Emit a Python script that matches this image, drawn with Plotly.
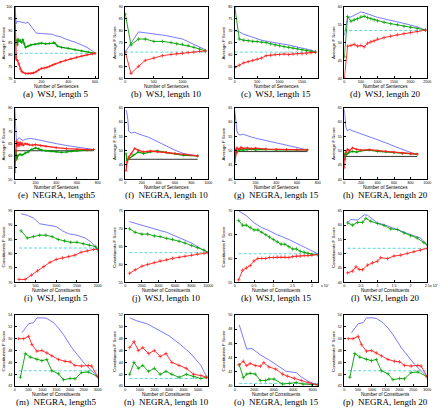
import plotly.graph_objects as go

# ---------------- data ----------------
# (a) WSJ length 5
A_BLUE_X = [2, 10, 20, 40, 60, 80, 100, 120, 140, 160, 200, 240, 280, 300, 340, 380, 420, 460, 500, 540, 580, 600]
A_BLUE_Y = [100, 93, 94, 93.8, 93.5, 93.2, 93.5, 92, 90, 89, 88.8, 88.6, 88.5, 88, 87.5, 86.5, 85.8, 85, 84, 83, 81.5, 80.5]
A_GREEN_X = [15, 20, 25, 30, 40, 50, 60, 70, 80, 100, 120, 150, 180, 200, 230, 260, 290, 300, 320, 350, 400, 450, 500, 550, 600]
A_GREEN_Y = [86, 84, 86.5, 85.5, 86, 85, 86.3, 84.5, 83, 83.5, 84, 84.3, 84.6, 84.8, 84.5, 84.7, 85, 84.8, 83.5, 83, 82.6, 82, 81.5, 81, 80.5]
A_RED_X = [0, 3, 6, 10, 20, 30, 40, 50, 60, 80, 100, 120, 140, 160, 180, 200, 220, 240, 260, 280, 300, 340, 380, 420, 460, 500, 540, 580, 600]
A_RED_Y = [100, 90, 79, 78, 77.5, 76, 74, 73, 72.5, 72, 72, 72, 72.2, 72.8, 73.5, 74.2, 74.3, 74.5, 75, 75.5, 76, 76.8, 77.5, 78.2, 78.8, 79.3, 79.8, 80.2, 80.5]
A_BASE = 80.5

# (b) WSJ length 10
B_BLUE_X = [0, 230, 700, 1000, 1400]
B_BLUE_Y = [71, 79.5, 78, 76.5, 72]
B_X = [0, 100, 230, 350, 500, 650, 800, 900, 1000, 1100, 1200, 1300, 1400]
B_GREEN_Y = [87, 74, 76.5, 76.5, 75.5, 75.5, 75, 74.5, 74.3, 73.8, 73, 72.3, 71.5]
B_RED_Y = [71, 62, 65, 67.5, 68.5, 69.5, 70, 70.3, 70.5, 70.8, 71, 71.3, 71.5]
B_BASE = 71

# (c) WSJ length 15
C_X = [0, 100, 200, 300, 400, 500, 600, 700, 800, 900, 1000, 1100, 1200, 1300, 1400, 1500, 1600, 1700, 1800]
C_BLUE_Y = [70, 69.5, 68.5, 67.8, 67.2, 66.6, 66, 65.6, 65.2, 64.9, 64.6, 64.3, 64, 63.6, 63.2, 62.8, 62.4, 61.8, 61.2]
C_GREEN_Y = [80, 66.5, 66, 65.8, 65.5, 65.5, 65.2, 65, 64.5, 64, 63.7, 63.3, 63, 62.7, 62.4, 62, 61.7, 61.4, 61]
C_RED_Y = [54.5, 55.5, 56.5, 57, 57.5, 58, 58.5, 59.5, 59.7, 60, 60, 60.2, 60, 60.2, 60.3, 60.3, 60.5, 60.7, 61]
C_BASE = 61

# (d) WSJ length 20
D_X = [0, 100, 200, 300, 400, 500, 600, 700, 800, 900, 1000, 1200, 1400, 1600, 1800, 2000, 2200, 2450]
D_BLUE_Y = [52, 57, 57.2, 57.6, 58.2, 58.6, 58.4, 58, 57.7, 57.4, 57.1, 56.6, 56.2, 55.8, 55.4, 55, 54.4, 53.5]
D_GREEN_Y = [46, 57.3, 56, 56.4, 56.7, 57.2, 57.4, 57, 56.7, 56.4, 56.1, 55.7, 55.3, 55, 54.6, 54.3, 54, 53.5]
D_RED_Y = [40, 49, 49.2, 49.5, 49, 49.2, 48.8, 49.8, 50.2, 50.5, 51, 51.4, 51.8, 52.2, 52.5, 52.8, 53.1, 53.5]
D_BASE = 53.4

# (e) NEGRA length 5
E_BLUE_X = [0, 3, 8, 15, 25, 40, 60, 80, 100, 150, 200, 250, 300, 400, 500, 600, 700, 760]
E_BLUE_Y = [80, 76, 70, 66, 66.5, 67.5, 66.8, 66.3, 66.8, 67.2, 66.8, 66.3, 65.8, 65, 64.2, 63.5, 62.8, 62.5]
E_RED_X = [0, 5, 10, 15, 20, 30, 40, 50, 60, 70, 80, 100, 120, 140, 170, 200, 250, 300, 400, 500, 600, 700, 760]
E_RED_Y = [53, 58, 62, 66, 64, 65.5, 64, 65.5, 64.5, 65.2, 64.3, 65, 64.8, 64.5, 64.4, 64.6, 64.2, 63.8, 63.3, 62.9, 62.6, 62.5, 62.5]
E_GREEN_X = [5, 10, 20, 30, 50, 70, 100, 130, 160, 200, 230, 260, 300, 350, 400, 450, 500, 550, 600, 700, 760]
E_GREEN_Y = [58, 62, 58.5, 60, 60.5, 60.2, 61, 61.5, 62.5, 63.2, 62.8, 62.3, 62, 61.8, 61.6, 61.3, 61.5, 61.8, 62, 62.3, 62.5]
E_BASE = 62

# (f) NEGRA length 10
F_BLUE_X = [8, 17, 30, 42, 72, 114, 156, 219, 283, 388, 494, 599, 705, 810, 873]
F_BLUE_Y = [64.3, 63.4, 61, 56.8, 56.2, 56.5, 55.9, 55.4, 54.7, 53.2, 51.7, 50.2, 49, 48.4, 48.2]
F_RED_X = [8, 21, 42, 72, 114, 156, 219, 304, 388, 494, 599, 705, 873]
F_RED_Y = [43, 46, 47.8, 49, 50.8, 50.2, 49.6, 49.9, 49.6, 49.4, 49, 48.7, 48.2]
F_GREEN_X = [8, 21, 42, 93, 156, 219, 304, 388, 494, 599, 705, 873]
F_GREEN_Y = [49, 46.6, 47.2, 48.4, 49.6, 49, 49.6, 49.9, 49.4, 49, 48.4, 48.2]
F_BASE = 47

# (g) NEGRA length 15
G_BLUE_X = [0, 5, 10, 20, 30, 50, 80, 120, 160, 200, 300, 400, 500, 600, 700]
G_BLUE_Y = [64, 62, 59, 57, 56, 55.5, 55.8, 55.2, 54.8, 54.4, 53.6, 52.8, 51.9, 51, 50.3]
G_X = [0, 10, 20, 40, 60, 80, 120, 160, 200, 300, 400, 500, 600, 700]
G_RED_Y = [46, 49, 51, 50.5, 51.2, 50.8, 51, 50.7, 50.9, 50.6, 50.5, 50.4, 50.3, 50.3]
G_GREEN_Y = [48, 50.5, 49.5, 50, 50.5, 50.2, 50.4, 50.6, 50.3, 50.5, 50.3, 50.4, 50.3, 50.3]
G_BASE = 49.7

# (h) NEGRA length 20
H_X = [0, 5, 10, 20, 40, 60, 100, 150, 200, 300, 400, 500, 600, 700, 800, 880]
H_BLUE_Y = [64.5, 62, 60, 58, 57, 57.5, 57, 56.5, 56, 55, 54, 52.8, 51.6, 50.4, 49.4, 48.8]
H_RED_Y = [44, 47, 48.5, 49.5, 50.5, 50, 51, 50.5, 50.2, 50.4, 50, 49.8, 49.5, 49.2, 49, 48.8]
H_GREEN_Y = [49, 47, 48, 48.5, 49, 49.5, 49.8, 49.5, 50, 50.2, 49.8, 49.6, 49.3, 49, 48.9, 48.8]
H_BASE = 48

# (i) WSJ length 5, constituents
I_BLUE_X = [150, 300, 450, 600, 800, 1000, 1150, 1300, 1500, 1700, 1850, 2000]
I_BLUE_Y = [94, 93.5, 92.5, 90.5, 90, 89.5, 88, 87, 86.5, 85.5, 84, 81.5]
I_GREEN_X = [150, 300, 450, 600, 750, 900, 1050, 1200, 1350, 1500, 1650, 1800, 1950, 2000]
I_GREEN_Y = [88, 85.5, 86, 86.5, 86.5, 86, 85, 84.5, 84, 84, 83.5, 83, 82.5, 81.5]
I_RED_X = [100, 250, 400, 550, 700, 850, 1000, 1150, 1300, 1450, 1600, 1750, 1900, 2000]
I_RED_Y = [71, 71, 72.5, 74, 75.5, 77, 78, 78.5, 79, 79.5, 80.5, 81, 81.5, 81.5]
I_BASE = 82

# (j) WSJ length 10, constituents
J_X = [500, 1200, 2000, 2700, 3500, 4200, 5000, 5700, 6500, 7200, 8000, 8700, 9500, 10000]
J_BLUE_Y = [72, 71.5, 71, 70.5, 70, 69.5, 69, 68.3, 67.5, 66.8, 66, 65, 64, 63.3]
J_GREEN_Y = [70, 69, 68.5, 68.5, 68, 67.8, 67.3, 67, 66.5, 66, 65.3, 64.7, 64, 63.3]
J_RED_Y = [57.5, 58.5, 59.5, 60, 60.5, 61, 61.3, 61.7, 62, 62.3, 62.6, 62.9, 63.1, 63.3]
J_BASE = 63.3

# (k) WSJ length 15, constituents
K_BLUE_X = [1000, 3000, 5000, 7000, 8500, 11000, 14000, 16500, 19000, 21500]
K_BLUE_Y = [70, 69, 67.5, 66.5, 66, 65, 64, 63, 62, 61]
K_X = [1000, 2000, 3000, 4000, 5000, 6000, 7000, 8000, 9000, 10000, 11000, 12000, 13000, 14000, 15000, 16000, 17000, 18000, 19000, 20000, 21500]
K_GREEN_Y = [68, 67, 67, 66.5, 66, 66, 65.5, 65, 64.5, 64, 63.5, 63, 63, 62.5, 62, 62, 61.5, 61.3, 61.1, 60.9, 60.8]
K_RED_Y = [55.5, 57.5, 58, 58.5, 59.5, 60, 60, 60, 60.2, 60.2, 60.3, 60.3, 60.3, 60.2, 60.4, 60.5, 60.5, 60.6, 60.6, 60.7, 60.8]
K_BASE = 61

# (l) WSJ length 20, constituents
L_BLUE_X = [1000, 2000, 4000, 6000, 7000, 10000, 12000, 15000, 20000, 23000, 25000]
L_BLUE_Y = [61, 62, 61.8, 63.6, 63.5, 60.8, 60.2, 58.8, 56.7, 55.5, 53.1]
L_GREEN_X = [1000, 2500, 4000, 5500, 6500, 8000, 10000, 12000, 14000, 16000, 18000, 20000, 22000, 24000, 25000]
L_GREEN_Y = [60.8, 60, 61, 61, 62.4, 61.4, 60.6, 59.9, 58.7, 58.5, 57.3, 56.3, 55.5, 53.9, 53.1]
L_RED_X = [1000, 2500, 3500, 4500, 5500, 7000, 8500, 10000, 11000, 13000, 15000, 17000, 19000, 21000, 23000, 25000]
L_RED_Y = [43.3, 43.9, 45.4, 44.5, 44.4, 46, 46.8, 47.4, 48.6, 48.3, 49.2, 49.5, 50.1, 50.7, 51.3, 51.9]
L_BASE = 51.9

# (m) NEGRA length 5, constituents
M_BLUE_X = [260, 500, 680, 800, 1040, 1160, 1400, 1580, 1760, 2060, 2540, 2900, 3000]
M_BLUE_Y = [51.0, 52.5, 52.7, 53.5, 53.5, 53.4, 52.7, 51.8, 50.7, 48.5, 45.7, 44.0, 43.6]
M_RED_X = [140, 320, 500, 620, 800, 980, 1160, 1340, 1580, 1820, 2000, 2180, 2420, 2660, 2780, 3000]
M_RED_Y = [50.0, 50.0, 50.4, 49.0, 47.9, 48.0, 47.6, 47.1, 46.5, 46.2, 46.1, 45.5, 45.4, 45.5, 45.4, 43.6]
M_GREEN_X = [200, 380, 560, 800, 980, 1160, 1340, 1580, 1760, 2000, 2180, 2420, 2660, 3000]
M_GREEN_Y = [43.5, 47.5, 46.9, 46.5, 46.3, 46.5, 44.6, 44.1, 43.1, 43.3, 43.25, 44.3, 44.4, 43.6]
M_BASE = 44.6

# (n) NEGRA length 10, constituents
N_BLUE_X = [300, 800, 1500, 2200, 3000, 3800, 4500, 5200, 5600]
N_BLUE_Y = [51.5, 51, 50.5, 49.5, 48.5, 47, 45.5, 43.5, 41.5]
N_X = [300, 600, 900, 1200, 1600, 2000, 2400, 2800, 3200, 3700, 4200, 4700, 5200, 5600]
N_RED_Y = [46.5, 47.5, 46, 46.5, 45.5, 46, 45, 45.5, 44, 43.5, 43, 42, 41.8, 41.5]
N_GREEN_Y = [42, 44, 43, 43.5, 42.5, 43, 42, 42.5, 42, 41.5, 42, 41.6, 41.3, 41.5]
N_BASE = 41.3

# (o) NEGRA length 15, constituents
O_BLUE_X = [455, 1224, 1750, 2620, 3500, 4370, 5250, 5770, 6300, 6820, 7520, 8220, 8500]
O_BLUE_Y = [48.6, 45.2, 45.3, 44.4, 43.7, 42.9, 42.1, 42.0, 41.9, 41.3, 40.7, 40.3, 40.2]
O_RED_X = [455, 875, 1224, 1575, 2100, 2620, 2970, 3500, 4200, 4900, 5420, 6120, 6820, 7520, 8500]
O_RED_Y = [43.0, 43.5, 42.9, 43.2, 42.9, 42.8, 43.3, 42.7, 42.4, 41.7, 41.4, 41.1, 40.8, 40.5, 40.2]
O_GREEN_X = [455, 875, 1224, 1575, 2100, 2620, 3150, 3500, 4020, 4900, 5600, 6300, 7000, 7870, 8500]
O_GREEN_Y = [43.0, 41.2, 41.7, 41.8, 41.7, 40.8, 40.8, 41.0, 41.0, 40.3, 40.4, 40.5, 40.3, 40.25, 40.2]
O_BASE = 40.4

# (p) NEGRA length 20, constituents
P_BLUE_X = [260, 500, 680, 800, 1040, 1160, 1400, 1580, 1760, 2060, 2540, 2900, 3000]
P_BLUE_Y = [51.0, 52.5, 52.7, 53.5, 53.5, 53.4, 52.7, 51.8, 50.7, 48.5, 45.7, 44.0, 43.6]
P_RED_X = [140, 320, 500, 620, 800, 980, 1160, 1340, 1580, 1820, 2000, 2180, 2420, 2660, 2780, 3000]
P_RED_Y = [50.0, 50.0, 50.4, 49.0, 47.9, 48.0, 47.6, 47.1, 46.5, 46.2, 46.1, 45.5, 45.4, 45.5, 45.4, 43.6]
P_GREEN_X = [200, 380, 560, 800, 980, 1160, 1340, 1580, 1760, 2000, 2180, 2420, 2660, 3000]
P_GREEN_Y = [43.5, 47.5, 46.9, 46.5, 46.3, 46.5, 44.6, 44.1, 43.1, 43.3, 43.25, 44.3, 44.4, 43.6]
P_BASE = 44.6

CAPTIONS = ["(a)  WSJ, length 5", "(b)  WSJ, length 10", "(c)  WSJ, length 15", "(d)  WSJ, length 20",
            "(e)  NEGRA, length5", "(f)  NEGRA, length 10", "(g)  NEGRA, length 15", "(h)  NEGRA, length 20",
            "(i)  WSJ, length 5", "(j)  WSJ, length 10", "(k)  WSJ, length 15", "(l)  WSJ, length 20",
            "(m)  NEGRA, length5", "(n)  NEGRA, length 10", "(o)  NEGRA, length 15", "(p)  NEGRA, length 20"]

S_SENT = "Number of Sentences"
S_CONS = "Number of Constituents"
Y_AVG = "Average F Score"
Y_CONS = "Constituents F Score"

BLUE = "#4040ff"
GREEN = "#00a000"
RED = "#ff2020"
CYAN = "#33cccc"

PANELS = [
    dict(xr=[0, 620], xt=[0, 200, 400, 600], yr=[70, 100], yd=5,
         blue=(A_BLUE_X, A_BLUE_Y), green=(A_GREEN_X, A_GREEN_Y), red=(A_RED_X, A_RED_Y), base=A_BASE, dense=True),
    dict(xr=[0, 1450], xt=[0, 500, 1000], yr=[60, 90], yd=5,
         blue=(B_BLUE_X, B_BLUE_Y), green=(B_X, B_GREEN_Y), red=(B_X, B_RED_Y), base=B_BASE),
    dict(xr=[0, 1850], xt=[0, 500, 1000, 1500], yr=[50, 80], yd=5,
         blue=(C_X, C_BLUE_Y), green=(C_X, C_GREEN_Y), red=(C_X, C_RED_Y), base=C_BASE),
    dict(xr=[0, 2500], xt=[0, 500, 1000, 1500, 2000, 2500], yr=[40, 60], yd=5,
         blue=(D_X, D_BLUE_Y), green=(D_X, D_GREEN_Y), red=(D_X, D_RED_Y), base=D_BASE),
    dict(xr=[0, 800], xt=[0, 200, 400, 600, 800], yr=[50, 80], yd=5,
         blue=(E_BLUE_X, E_BLUE_Y), green=(E_GREEN_X, E_GREEN_Y), red=(E_RED_X, E_RED_Y), base=E_BASE, black=True, dense=True),
    dict(xr=[0, 1000], xt=[0, 200, 400, 600, 800, 1000], yr=[40, 65], yd=5,
         blue=(F_BLUE_X, F_BLUE_Y), green=(F_GREEN_X, F_GREEN_Y), red=(F_RED_X, F_RED_Y), base=F_BASE, black=True, dense=True),
    dict(xr=[0, 800], xt=[0, 200, 400, 600, 800], yr=[40, 65], yd=5,
         blue=(G_BLUE_X, G_BLUE_Y), green=(G_X, G_GREEN_Y), red=(G_X, G_RED_Y), base=G_BASE, black=True, dense=True),
    dict(xr=[0, 1000], xt=[0, 200, 400, 600, 800, 1000], yr=[40, 65], yd=5,
         blue=(H_X, H_BLUE_Y), green=(H_X, H_GREEN_Y), red=(H_X, H_RED_Y), base=H_BASE, black=True, dense=True),
    dict(xr=[0, 2000], xt=[0, 500, 1000, 1500, 2000], yr=[70, 95], yd=5,
         blue=(I_BLUE_X, I_BLUE_Y), green=(I_GREEN_X, I_GREEN_Y), red=(I_RED_X, I_RED_Y), base=I_BASE),
    dict(xr=[0, 10000], xt=[0, 2000, 4000, 6000, 8000, 10000], yr=[55, 75], yd=5,
         blue=(J_X, J_BLUE_Y), green=(J_X, J_GREEN_Y), red=(J_X, J_RED_Y), base=J_BASE),
    dict(xr=[0, 21500], xt=[0, 5000, 10000, 15000, 20000], xtt=["0", "0.5", "1", "1.5", "2"], yr=[55, 70], yd=5,
         blue=(K_BLUE_X, K_BLUE_Y), green=(K_X, K_GREEN_Y), red=(K_X, K_RED_Y), base=K_BASE, e4=True),
    dict(xr=[0, 25000], xt=[0, 5000, 10000, 15000, 20000, 25000], xtt=["0", "0.5", "1", "1.5", "2", "2.5"], yr=[40, 65], yd=5,
         blue=(L_BLUE_X, L_BLUE_Y), green=(L_GREEN_X, L_GREEN_Y), red=(L_RED_X, L_RED_Y), base=L_BASE, e4=True),
    dict(xr=[0, 3000], xt=[0, 500, 1000, 1500, 2000, 2500, 3000], yr=[42, 54], yd=2,
         blue=(M_BLUE_X, M_BLUE_Y), green=(M_GREEN_X, M_GREEN_Y), red=(M_RED_X, M_RED_Y), base=M_BASE),
    dict(xr=[0, 5700], xt=[0, 1000, 2000, 3000, 4000, 5000], yr=[40, 52], yd=2,
         blue=(N_BLUE_X, N_BLUE_Y), green=(N_X, N_GREEN_Y), red=(N_X, N_RED_Y), base=N_BASE),
    dict(xr=[0, 8500], xt=[0, 2000, 4000, 6000, 8000], yr=[40, 50], yd=2,
         blue=(O_BLUE_X, O_BLUE_Y), green=(O_GREEN_X, O_GREEN_Y), red=(O_RED_X, O_RED_Y), base=O_BASE),
    dict(xr=[0, 3000], xt=[0, 500, 1000, 1500, 2000, 2500, 3000], yr=[42, 54], yd=2,
         blue=(P_BLUE_X, P_BLUE_Y), green=(P_GREEN_X, P_GREEN_Y), red=(P_RED_X, P_RED_Y), base=P_BASE),
]

W, H = 445, 410
COL_L = [14, 126, 237, 348]
ROW_T = [5, 107, 211, 316]
BW, BH = 84, 72

fig = go.Figure()
annotations = []
TF = dict(family="Liberation Sans", size=3.6, color="black")

for i, p in enumerate(PANELS):
    r, c = divmod(i, 4)
    sfx = "" if i == 0 else str(i + 1)
    x0 = COL_L[c] / W
    x1 = (COL_L[c] + BW) / W
    y1 = 1 - ROW_T[r] / H
    y0 = 1 - (ROW_T[r] + BH) / H
    xa = dict(domain=[x0, x1], anchor="y" + sfx, range=p["xr"], tickvals=p["xt"],
              ticktext=p.get("xtt", [str(v) for v in p["xt"]]),
              showline=True, mirror=True, linecolor="black", linewidth=0.8,
              ticks="inside", ticklen=2, tickwidth=0.6, tickcolor="black",
              showgrid=False, zeroline=False, tickfont=TF, ticklabelstandoff=0)
    ya = dict(domain=[y0, y1], anchor="x" + sfx, range=p["yr"], dtick=p["yd"],
              showline=True, mirror=True, linecolor="black", linewidth=0.8,
              ticks="inside", ticklen=2, tickwidth=0.6, tickcolor="black",
              showgrid=False, zeroline=False, tickfont=TF, ticklabelstandoff=1)
    fig.update_layout(**{"xaxis" + sfx: xa, "yaxis" + sfx: ya})

    dense = p.get("dense", False)
    xs_all = p["blue"][0] + p["green"][0] + p["red"][0]
    xmin, xmax = min(xs_all), max(xs_all)
    if p.get("black"):
        fig.add_trace(go.Scatter(x=[xmin, xmax], y=[p["base"], p["base"]], mode="lines",
                                 line=dict(color="black", width=0.8),
                                 xaxis="x" + sfx, yaxis="y" + sfx, showlegend=False, hoverinfo="skip"))
    else:
        fig.add_trace(go.Scatter(x=[xmin, xmax], y=[p["base"], p["base"]], mode="lines",
                                 line=dict(color=CYAN, width=0.8, dash="3px,2px"),
                                 xaxis="x" + sfx, yaxis="y" + sfx, showlegend=False, hoverinfo="skip"))
    fig.add_trace(go.Scatter(x=p["blue"][0], y=p["blue"][1], mode="lines",
                             line=dict(color=BLUE, width=0.7),
                             xaxis="x" + sfx, yaxis="y" + sfx, showlegend=False))
    for key, col in (("green", GREEN), ("red", RED)):
        fig.add_trace(go.Scatter(x=p[key][0], y=p[key][1], mode="lines+markers",
                                 line=dict(color=col, width=1.3 if dense else 0.9),
                                 marker=dict(symbol="cross-thin", size=2 if dense else 2.6,
                                             line=dict(color=col, width=0.7)),
                                 xaxis="x" + sfx, yaxis="y" + sfx, showlegend=False))

    cx = (COL_L[c] + BW / 2) / W
    bottom = ROW_T[r] + BH
    xlab = S_SENT if r < 2 else S_CONS
    ylab = Y_AVG if r < 2 else Y_CONS
    annotations.append(dict(x=cx, y=1 - (bottom + 8.5) / H, xref="paper", yref="paper", text=xlab,
                            showarrow=False, font=dict(family="Liberation Sans", size=4.6, color="black"),
                            xanchor="center", yanchor="middle"))
    annotations.append(dict(x=(COL_L[c] - 11) / W, y=1 - (ROW_T[r] + BH / 2) / H, xref="paper", yref="paper",
                            text=ylab, textangle=-90, showarrow=False,
                            font=dict(family="Liberation Sans", size=4.4, color="black"),
                            xanchor="center", yanchor="middle"))
    annotations.append(dict(x=cx, y=1 - (bottom + 16) / H, xref="paper", yref="paper", text=CAPTIONS[i],
                            showarrow=False, font=dict(family="Liberation Serif", size=9, color="black"),
                            xanchor="center", yanchor="middle"))
    if p.get("e4"):
        annotations.append(dict(x=(COL_L[c] + BW + 1) / W, y=1 - (bottom + 3) / H, xref="paper", yref="paper",
                                text="x 10<sup>4</sup>", showarrow=False,
                                font=dict(family="Liberation Sans", size=3.6, color="black"),
                                xanchor="left", yanchor="middle"))

fig.update_layout(width=W, height=H, margin=dict(l=0, r=0, t=0, b=0),
                  paper_bgcolor="white", plot_bgcolor="white", annotations=annotations)
fig.write_html("out.html")
